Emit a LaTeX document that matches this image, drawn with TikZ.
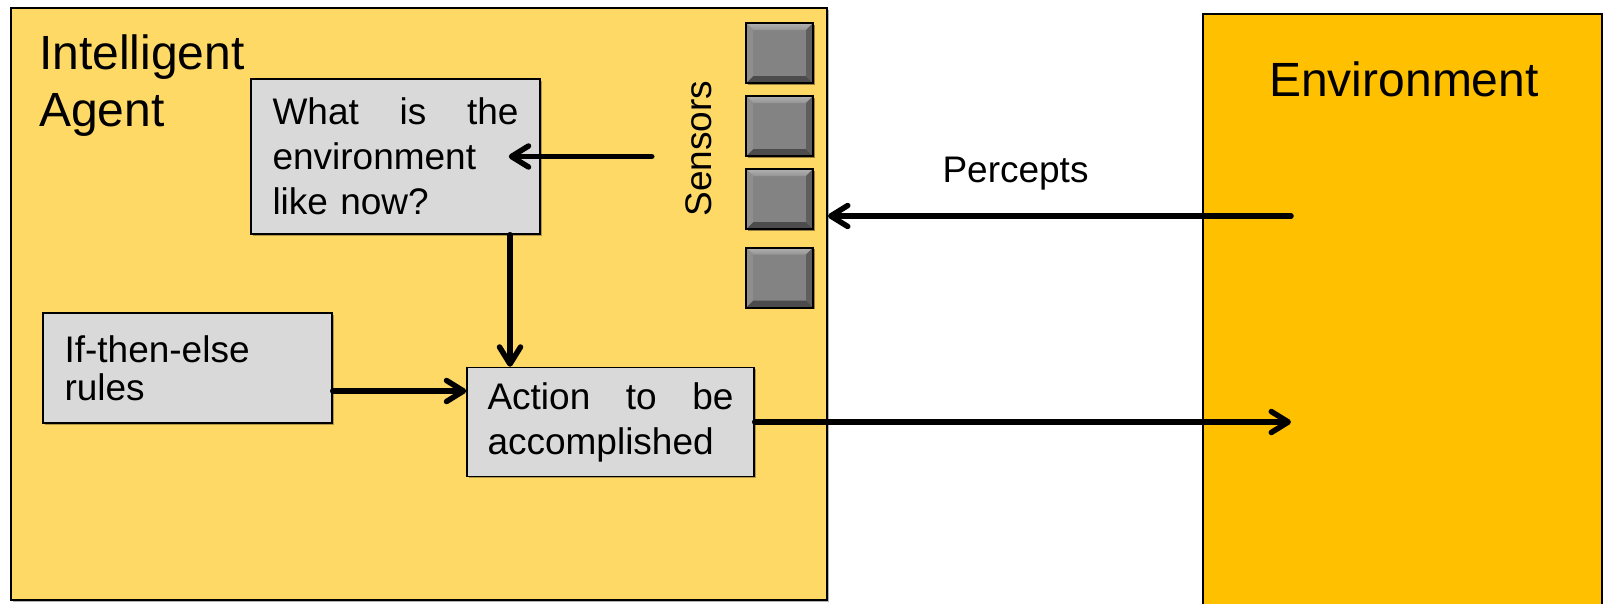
\documentclass[tikz,border=0pt]{standalone}
\usepackage{fontspec}
\setmainfont{Liberation Sans}
\usetikzlibrary{arrows.meta,shadows,calc}

\definecolor{agentfill}{HTML}{FFD966}
\definecolor{envfill}{HTML}{FFC000}
\definecolor{panelfill}{HTML}{D9D9D9}
\definecolor{sensorface}{HTML}{838383}
\definecolor{beveltop}{HTML}{B2B2B2}
\definecolor{bevelmid}{HTML}{949494}
\definecolor{bevelleft}{HTML}{8E8E8E}
\definecolor{bevelright}{HTML}{5E5E5E}
\definecolor{bevelbottom}{HTML}{4C4C4C}

\tikzset{
  softshadow/.style={drop shadow={shadow xshift=1.5pt, shadow yshift=-1.5pt, opacity=0.3, fill=black}},
  region/.style={draw=black, line width=2pt, inner sep=0pt, softshadow},
  title/.style={font=\fontsize{48}{57}\selectfont, inner sep=0pt, align=left},
  labeltext/.style={font=\fontsize{37}{45}\selectfont, inner sep=0pt},
  panel/.style={draw=black, line width=1.5pt, fill=panelfill, minimum width=289pt,
    text width=246pt, align=left, inner sep=0pt,
    font=\fontsize{37}{45}\selectfont, softshadow},
  sensor/.style={draw=black, line width=2pt, fill=sensorface,
    minimum width=67pt, minimum height=60pt, inner sep=0pt,
    drop shadow={shadow xshift=1.5pt, shadow yshift=-1.5pt, opacity=0.4, fill=black},
    path picture={
      \path (path picture bounding box.north west) coordinate (bnw)
            (path picture bounding box.south east) coordinate (bse);
      \shade[top color=beveltop, bottom color=bevelmid]
        (bnw) -- (bnw -| bse) -- ($(bnw -| bse)+(-7,7)$) -- ($(bnw)+(7,7)$) -- cycle;
      \fill[bevelbottom]
        (bse) -- (bse -| bnw) -- ($(bse -| bnw)+(7,-7)$) -- ($(bse)+(-7,-7)$) -- cycle;
      \fill[bevelleft]
        (bnw) -- ($(bnw)+(7,7)$) -- ($(bse -| bnw)+(7,-7)$) -- (bse -| bnw) -- cycle;
      \fill[bevelright]
        (bnw -| bse) -- (bse) -- ($(bse)+(-7,-7)$) -- ($(bnw -| bse)+(-7,7)$) -- cycle;
    }},
  link/.style={line width=5.5pt, line cap=round,
    -{Straight Barb[length=17pt, width=21pt, line cap=round, line join=round]}},
}

\begin{document}
\begin{tikzpicture}[x=1pt, y=-1pt]
  \useasboundingbox (0,0) rectangle (1603,603);

  % the agent and its environment
  \node[region, fill=agentfill, minimum width=816pt, minimum height=592pt] (agent) at (419,304) {};
  \node[region, fill=envfill, minimum width=399pt, minimum height=608pt] (env) at (1402.5,318) {};

  \node[title, anchor=north west] (agentname) at (39,35) {Intelligent\\Agent};
  \node[title, anchor=base] (envname) at (1404,96) {Environment};

  % sensor array
  \node[sensor] (s1) at (779.5,53) {};
  \node[sensor] (s2) at (779.5,126) {};
  \node[sensor] (s3) at (779.5,199) {};
  \node[sensor] (s4) at (779.5,277.5) {};
  \node[labeltext, rotate=90] (sensors) at (699,148.5) {Sensors};

  % internal reasoning boxes (first lines spread to the full text width)
  \node[panel, minimum height=155pt] (what) at (395.5,156.5)
    {\makebox[246pt][l]{What\hfill is\hfill the}\\environment\\like now?};
  \node[panel, minimum height=110pt, font=\fontsize{37}{38}\selectfont] (rules) at (187.5,368)
    {If-then-else\\rules};
  \node[panel, minimum width=287pt, minimum height=109pt] (act) at (610.5,422)
    {\makebox[246pt][l]{Action\hfill to\hfill be}\\accomplished};

  \node[labeltext, anchor=base] (percepts) at (1015.5,182) {Percepts};

  % connectors
  \coordinate (pin) at (1291,216);
  \coordinate (pout) at (1291,422);
  \draw[link] (pin) -- (pin -| agent.east);
  \draw[link] (act.east) -- (pout);

  \draw[link] ([xshift=111pt]what.east) -- ([xshift=-32pt]what.east);

  \coordinate (down) at ($(what.south)+(114.5,0)$);
  \draw[link] (down) -- (down |- act.north);

  \coordinate (rin) at ($(rules.east)+(0,23)$);
  \draw[link] (rin) -- (rin -| act.west);
\end{tikzpicture}
\end{document}
